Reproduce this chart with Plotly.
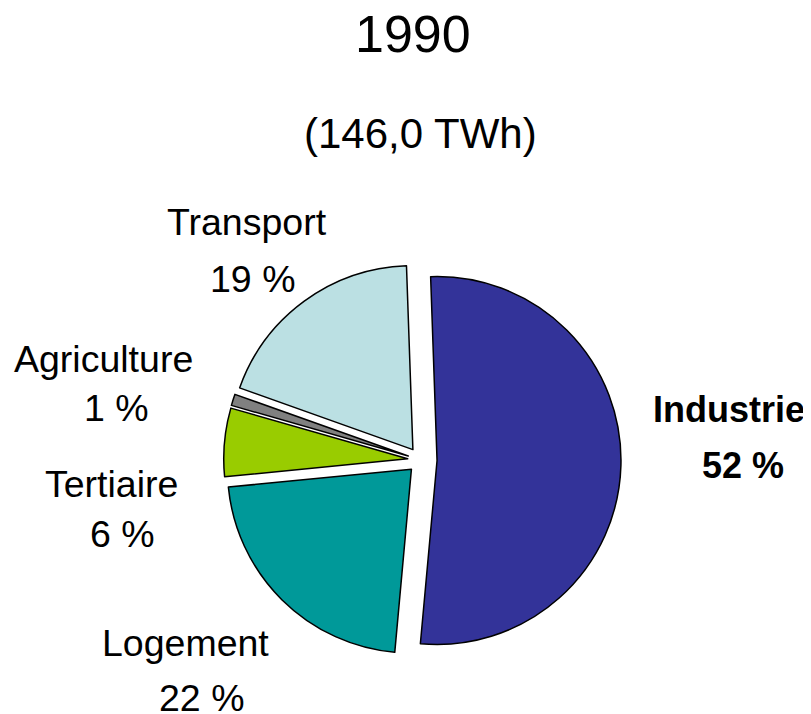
import plotly.graph_objects as go

# Data
categories = ["Industrie", "Logement", "Tertiaire", "Agriculture", "Transport"]
shares = [52, 22, 6, 1, 19]
colors = ["#333399", "#009999", "#99CC00", "#808080", "#BBE0E3"]
pulls = [0.09, 0.07, 0.07, 0.07, 0.07]
title_year = "1990"
total_label = "(146,0 TWh)"

# label placement (pixel centres of the label / percent lines, page coords)
label_pos = {
    "Industrie": ((729, 410), (743, 465)),
    "Logement": ((185, 643), (201, 698)),
    "Tertiaire": ((111, 484), (122, 534)),
    "Agriculture": ((103, 359), (116, 408)),
    "Transport": ((247, 222), (252, 279)),
}

OFF = 8  # page body margin
W, H = 811 - OFF, 714 - OFF
FONT = "Arial, Liberation Sans, sans-serif"


def fx(px):
    return (px - OFF) / W


def fy(py):
    return 1 - (py - OFF) / H


fig = go.Figure(
    go.Pie(
        labels=categories,
        values=shares,
        sort=False,
        direction="clockwise",
        rotation=-2,
        pull=pulls,
        marker=dict(colors=colors, line=dict(color="black", width=1.5)),
        textinfo="none",
        hoverinfo="label+percent",
        showlegend=False,
        domain=dict(x=[fx(220), fx(621)], y=[fy(660.5), fy(259.5)]),
    )
)

annotations = [
    dict(text=title_year, x=fx(413), y=fy(34), font=dict(size=52)),
    dict(text=total_label, x=fx(420), y=fy(134), font=dict(size=42)),
]
for cat, val in zip(categories, shares):
    (lx, ly), (px, py) = label_pos[cat]
    bold = cat == "Industrie"
    lt = f"<b>{cat}</b>" if bold else cat
    pt = f"<b>{val} %</b>" if bold else f"{val} %"
    size = 36 if bold else 37.5
    annotations.append(dict(text=lt, x=fx(lx), y=fy(ly), font=dict(size=size)))
    annotations.append(dict(text=pt, x=fx(px), y=fy(py), font=dict(size=size)))

for a in annotations:
    a.update(xref="paper", yref="paper", xanchor="center", yanchor="middle", showarrow=False)
    a["font"].update(family=FONT, color="black")

fig.update_layout(
    width=W,
    height=H,
    margin=dict(l=0, r=0, t=0, b=0),
    paper_bgcolor="white",
    plot_bgcolor="white",
    font=dict(family=FONT, color="black"),
    annotations=annotations,
)

fig.write_html("out.html")
